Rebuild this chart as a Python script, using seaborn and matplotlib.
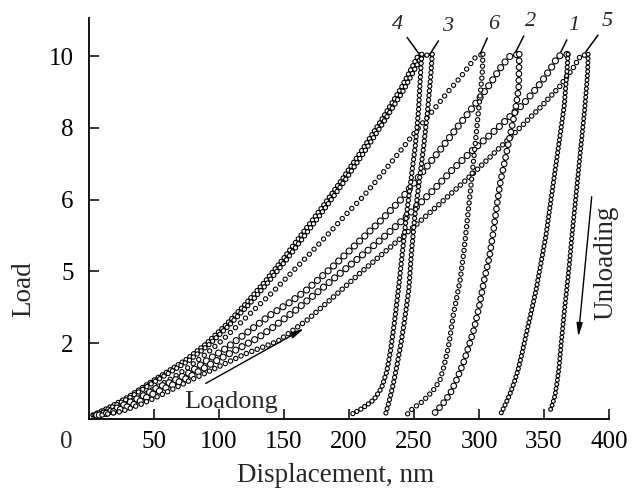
import matplotlib
matplotlib.use("Agg")
import matplotlib.pyplot as plt
import seaborn as sns

# ---------------- data (displacement nm, load) ----------------
c4_load_x = [3, 15, 30, 45, 60, 75, 90, 105, 120, 135, 150, 165, 180, 195, 210, 225, 240, 253, 256]
c4_load_y = [0.0, 0.2, 0.5, 0.86, 1.2, 1.55, 1.98, 2.5, 3.08, 3.7, 4.38, 5.1, 5.82, 6.58, 7.38, 8.22, 9.1, 10.0, 10.05]
c4_unl_x = [256, 255, 253.5, 251, 247.5, 244, 241, 238, 235, 232, 229, 225, 219, 210, 201]
c4_unl_y = [10.05, 9.5, 8.5, 7.5, 6.5, 5.5, 4.5, 3.5, 2.6, 1.8, 1.2, 0.75, 0.42, 0.18, 0.0]

c3_load_x = [4, 17, 32, 47, 62, 77, 92, 107, 122, 137, 152, 167, 182, 197, 212, 227, 242, 256, 264]
c3_load_y = [0.0, 0.2, 0.5, 0.85, 1.18, 1.52, 1.95, 2.47, 3.04, 3.66, 4.33, 5.05, 5.78, 6.54, 7.34, 8.18, 9.05, 10.0, 10.05]
c3_unl_x = [264, 263, 260.5, 257.5, 254, 250.5, 248, 246, 243, 240, 237, 234, 231, 228]
c3_unl_y = [10.05, 9.5, 8.5, 7.5, 6.5, 5.5, 4.5, 3.5, 2.7, 2.0, 1.4, 0.85, 0.4, 0.0]

c6_load_x = [5, 15, 25, 40, 52, 65, 77, 90, 103, 116, 129, 142, 154, 170, 186, 198, 210, 225, 240, 253, 265, 276, 286, 298, 303]
c6_load_y = [0.0, 0.1, 0.22, 0.5, 0.78, 1.05, 1.34, 1.7, 2.1, 2.55, 3.0, 3.45, 3.9, 4.5, 5.12, 5.6, 6.05, 6.7, 7.38, 7.98, 8.5, 9.0, 9.42, 10.0, 10.05]
c6_unl_x = [303, 302.5, 300, 297.5, 295, 291.5, 288.5, 285.5, 280.5, 276.5, 273, 270, 265, 260, 255, 249.5, 245]
c6_unl_y = [10.05, 9.5, 8.6, 7.7, 6.8, 5.6, 4.6, 3.76, 2.84, 1.9, 1.35, 0.97, 0.7, 0.5, 0.33, 0.2, 0.03]

c2_load_x = [6, 15, 25, 40, 52, 65, 77, 90, 105, 121.7, 140, 155, 168, 188, 208.8, 224, 239.6, 255, 270.4, 283, 295.8, 309, 318, 324, 331]
c2_load_y = [0.0, 0.08, 0.25, 0.5, 0.75, 0.95, 1.17, 1.5, 1.85, 2.3, 2.8, 3.15, 3.5, 4.15, 4.87, 5.4, 5.99, 6.7, 7.4, 8.0, 8.6, 9.25, 9.75, 10.0, 10.05]
c2_unl_x = [331, 330.5, 328, 324, 320, 316.5, 314, 311, 308, 304, 300, 296, 292, 288, 283, 278, 272, 265]
c2_unl_y = [10.05, 9.1, 8.5, 7.8, 7.1, 6.5, 5.9, 5.1, 4.4, 3.76, 3.0, 2.37, 1.9, 1.45, 1.0, 0.61, 0.3, 0.02]

c1_load_x = [8, 20, 35, 50, 65, 77, 95, 115, 130, 141.8, 160, 180, 200, 224, 245, 265, 280, 295.8, 310, 322, 335, 347.5, 356, 361, 368.5]
c1_load_y = [0.0, 0.1, 0.3, 0.6, 0.85, 1.05, 1.45, 1.85, 2.15, 2.45, 2.95, 3.55, 4.15, 4.87, 5.55, 6.27, 6.85, 7.4, 7.85, 8.25, 8.7, 9.25, 9.7, 10.0, 10.05]
c1_unl_x = [368.5, 367.5, 365.5, 362, 358.5, 355, 351.5, 347.5, 344, 340, 336, 333, 330, 327, 324, 321, 317]
c1_unl_y = [10.05, 9.5, 8.6, 7.7, 6.8, 5.9, 5.0, 4.2, 3.5, 2.84, 2.2, 1.7, 1.25, 0.9, 0.6, 0.35, 0.05]

c5_load_x = [10, 25, 40, 55, 77, 100, 120, 145, 168, 190, 210, 231, 250, 270.4, 295.8, 322, 347.5, 362, 373, 378, 384]
c5_load_y = [0.0, 0.1, 0.3, 0.55, 0.95, 1.35, 1.7, 2.05, 2.65, 3.35, 4.0, 4.65, 5.25, 5.9, 6.74, 7.66, 8.58, 9.15, 9.7, 10.0, 10.05]
c5_unl_x = [384, 383.5, 381.5, 379, 376.5, 374, 371.5, 369.5, 367.5, 365.5, 363.5, 361.5, 360, 358.5, 356.5, 354]
c5_unl_y = [10.05, 9.5, 8.6, 7.7, 6.8, 5.9, 5.0, 4.2, 3.5, 2.84, 2.1, 1.3, 0.9, 0.55, 0.3, 0.05]

curve_labels = ["4", "3", "6", "2", "1", "5"]
label_text_xy = [(237.3, 10.89), (275.8, 10.81), (311.2, 10.89), (339.8, 10.95), (372.9, 10.84), (399.0, 10.95)]
label_point_xy = [(253.5, 10.08), (262.7, 10.08), (301.2, 10.08), (328.2, 10.11), (362.9, 10.11), (382.0, 10.11)]

x_ticks = [50, 100, 150, 200, 250, 300, 350, 400]
y_ticks = [2, 4, 6, 8, 10]
y_tick_labels = ["2", "5", "6", "8", "10"]

# ---------------- style ----------------
sns.set_style("ticks")
plt.rcParams["font.family"] = ["Liberation Serif", "DejaVu Serif"]
plt.rcParams["lines.scale_dashes"] = False

fig = plt.figure(figsize=(6.4, 4.93), dpi=100)
ax = fig.add_axes([89 / 640, 74 / 493, 520 / 640, 401 / 493])


def ring_chain(x, y, d, sp):
    for color, lw in (("black", d), ("white", d - 1.6)):
        sns.lineplot(x=x, y=y, sort=False, estimator=None, ax=ax, color=color,
                     lw=lw, linestyle=(0, (0.001, sp)), dash_capstyle="round",
                     clip_on=False)


loads = [
    (c4_load_x, c4_load_y, 3.9, 3.4),
    (c3_load_x, c3_load_y, 3.9, 3.6),
    (c6_load_x, c6_load_y, 3.9, 5.0),
    (c2_load_x, c2_load_y, 5.2, 5.2),
    (c1_load_x, c1_load_y, 5.2, 5.2),
    (c5_load_x, c5_load_y, 4.0, 4.2),
]
unloads = [
    (c4_unl_x, c4_unl_y, 3.8, 3.3),
    (c3_unl_x, c3_unl_y, 3.8, 3.3),
    (c6_unl_x, c6_unl_y, 3.9, 4.3),
    (c2_unl_x, c2_unl_y, 4.9, 4.7),
    (c1_unl_x, c1_unl_y, 3.7, 3.1),
    (c5_unl_x, c5_unl_y, 3.6, 3.1),
]
for x, y, d, sp in loads + unloads:
    ring_chain(x, y, d, sp)

ax.set_xlim(0, 400)
ax.set_ylim(-0.111, 11.06)
ax.set_xticks(x_ticks)
ax.set_xticklabels([str(t) for t in x_ticks])
ax.set_yticks(y_ticks)
ax.set_yticklabels(y_tick_labels)
ax.tick_params(direction="in", length=7, width=1.1, labelsize=18, color="black", labelcolor="black")
ax.tick_params(axis="x", pad=9)
ax.tick_params(axis="y", pad=11)
sns.despine(ax=ax)
for s in ("left", "bottom"):
    ax.spines[s].set_linewidth(1.3)
    ax.spines[s].set_color("black")

ax.set_xlabel("Displacement, nm", fontsize=19.5, va="center", ha="center")
ax.set_ylabel("Load", fontsize=19.5, va="center", ha="center")
ax.xaxis.set_label_coords((336 - 89) / 520, -(476 - 419) / 401)
ax.yaxis.set_label_coords((24 - 89) / 520, (419 - 289) / 401)

ax.text(-17.7, -0.75, "0", fontsize=18, ha="center", va="center", clip_on=False)

for lab, txy, pxy in zip(curve_labels, label_text_xy, label_point_xy):
    ax.annotate(lab, xy=pxy, xytext=txy, fontsize=16, style="italic", ha="center", va="center",
                annotation_clip=False,
                arrowprops=dict(arrowstyle="-", lw=1.1, color="black", shrinkA=1, shrinkB=0))

ax.annotate("", xy=(165.4, 2.41), xytext=(89.8, 0.88),
            arrowprops=dict(arrowstyle="-|>,head_length=0.8,head_width=0.18", lw=1.0, color="black",
                            shrinkA=0, shrinkB=0))
ax.text(109.6, 0.2, "Loadong", fontsize=19, ha="center", va="baseline")

ax.annotate("", xy=(376.4, 2.18), xytext=(386.7, 6.08),
            arrowprops=dict(arrowstyle="-|>,head_length=0.8,head_width=0.18", lw=1.0, color="black",
                            shrinkA=0, shrinkB=0))
ax.text(397.5, 4.23, "Unloading", fontsize=19.5, rotation=90, ha="center", va="center")

fig.savefig("out.png", dpi=100)
